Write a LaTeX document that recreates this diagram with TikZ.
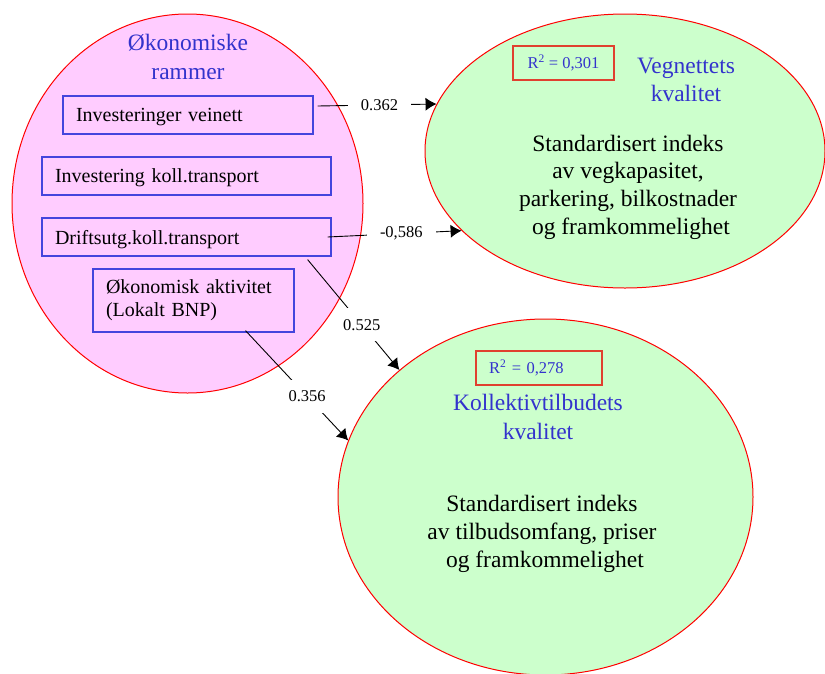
\documentclass[tikz,border=0pt]{standalone}
\usepackage{fontspec}
\setmainfont{Liberation Serif}
\usepackage{tikz}
\usetikzlibrary{shapes.geometric,arrows.meta}
\definecolor{figpink}{HTML}{FFCCFF}
\definecolor{figgreen}{HTML}{CCFFCC}
\definecolor{figred}{HTML}{FF0000}
\definecolor{figblue}{HTML}{3333CC}
\definecolor{figboxblue}{HTML}{4444DD}
\definecolor{figrboxred}{HTML}{E0402F}
\tikzset{
  figellipse/.style={ellipse, draw=figred, line width=1pt, inner sep=0pt},
  figbox/.style={draw=figboxblue, line width=1.2pt, align=left, inner xsep=13pt, inner ysep=0pt,
    text depth=0pt, minimum height=38pt, font=\fontsize{20}{23}\selectfont},
  figrbox/.style={draw=figrboxred, line width=1.2pt, text=figblue, minimum height=34pt,
    font=\fontsize{16.5}{19}\selectfont},
  figtitle/.style={text=figblue, align=center, font=\fontsize{23.5}{28.5}\selectfont},
  figbody/.style={align=center, font=\fontsize{23.5}{27.7}\selectfont},
  figlabel/.style={fill=white, inner xsep=13pt, inner ysep=3pt, font=\fontsize{16.5}{19}\selectfont},
  figarrow/.style={line width=0.9pt, -{Latex[length=11pt,width=13pt]}}
}
\begin{document}
\begin{tikzpicture}[x=1pt,y=-1pt]
  \useasboundingbox (0,0) rectangle (825,673);
  % the three latent variables
  \node[figellipse, fill=figpink, minimum width=351pt, minimum height=379pt] (okon) at (187.5,203.5) {};
  \node[figellipse, fill=figgreen, minimum width=400pt, minimum height=274pt] (veg) at (625,151) {};
  \node[figellipse, fill=figgreen, minimum width=415pt, minimum height=356pt] (koll) at (545.5,497) {};
  % economic frame
  \node[figtitle] (okontitle) at (188,57) {Økonomiske\\rammer};
  \node[figbox, text width=224pt] (inv) at (188,115) {Investeringer veinett};
  \node[figbox, text width=263pt] (invk) at (186.5,176) {Investering koll.transport};
  \node[figbox, text width=263pt] (drift) at (186.5,237) {Driftsutg.koll.transport};
  \node[figbox, text width=175pt, text depth=, minimum height=63pt] (akt) at (193.5,300.5) {Økonomisk aktivitet\\(Lokalt BNP)};
  % road network quality
  \node[figrbox, minimum width=101pt] (rveg) at (563.5,63) {R\textsuperscript{2} = 0,301};
  \node[figtitle] (vegtitle) at (686,80) {Vegnettets\\kvalitet};
  \node[figbody] (vegtext) at (628,187) {Standardisert indeks\\av vegkapasitet,\\parkering, bilkostnader\\\ og framkommelighet};
  % public transport quality
  \node[figrbox, text width=100pt, align=left, inner xsep=13pt] (rkoll) at (539,368) {R\textsuperscript{2} = 0,278};
  \node[figtitle] (kolltitle) at (538,417) {Kollektivtilbudets\\kvalitet};
  \node[figbody] (kolltext) at (542,534) {Standardisert indeks\\av tilbudsomfang, priser\\\ og framkommelighet};
  % paths with coefficients
  \draw[figarrow] ([xshift=4pt,yshift=9pt]inv.east) -- node[figlabel, pos=0.52] (c362) {0.362} (veg.166.5);
  \draw[figarrow] ([xshift=-4pt]drift.east) -- node[figlabel, pos=0.55] (c586) {-0,586} (veg.206);
  \draw[figarrow] ([xshift=-24pt,yshift=-3pt]drift.south east) -- node[figlabel, pos=0.59, inner xsep=6pt, inner ysep=11pt] (c525) {0.525} (koll.139);
  \draw[figarrow] ([xshift=52pt,yshift=2pt]akt.south) -- node[figlabel, pos=0.6, inner xsep=6pt, inner ysep=11pt] (c356) {0.356} (koll.164.7);
\end{tikzpicture}
\end{document}
